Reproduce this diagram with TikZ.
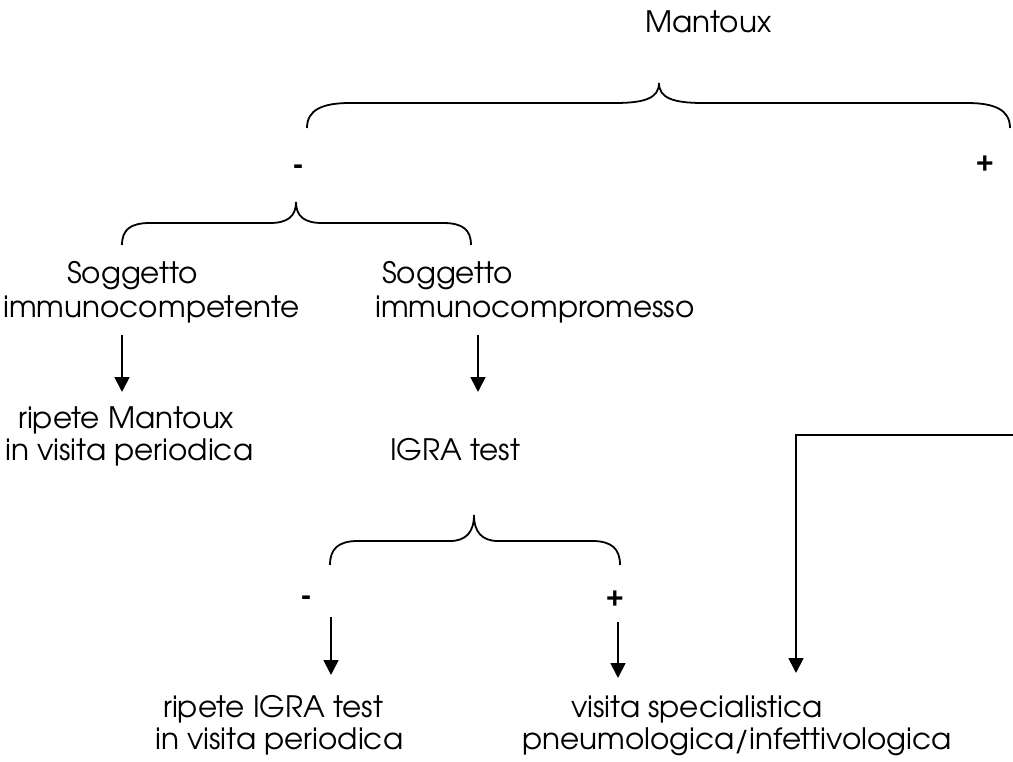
\documentclass[tikz,border=0pt]{standalone}
\usepackage{fontspec}
\setmainfont{texgyreadventor-regular.otf}
\newfontfamily\signfont{Liberation Sans}
\usetikzlibrary{arrows.meta}
\tikzset{
  txt/.style={inner sep=0pt, font=\fontsize{29.5}{34}\selectfont},
  sign/.style={inner sep=0pt, font=\signfont\bfseries\fontsize{30}{34}\selectfont},
  arr/.style={line width=1.8pt, -{Triangle[width=15pt,length=15pt]}},
  brace/.style={line width=1.8pt},
}
\begin{document}
\begin{tikzpicture}[x=1pt,y=-1pt]
\useasboundingbox (0,0) rectangle (1013,762);
% texts
\node[txt,anchor=base west] (mantoux) at (645,33) {Mantoux};
\node[txt,anchor=base west] (sogL) at (67,284) {Soggetto};
\node[txt,anchor=base west] (immL) at (3,318) {immunocompetente};
\node[txt,anchor=base west] (sogR) at (382,284) {Soggetto};
\node[txt,anchor=base west] (immR) at (375,318) {immunocompromesso};
\node[txt,anchor=base west] (ripM) at (18,428) {ripete Mantoux};
\node[txt,anchor=base west] (visM) at (5,460) {in visita periodica};
\node[txt,anchor=base west] (igra) at (390,460) {IGRA test};
\node[txt,anchor=base west] (ripI) at (163,717) {ripete IGRA test};
\node[txt,anchor=base west] (visI) at (155,749) {in visita periodica};
\node[txt,anchor=base west] (visS) at (571,717) {visita specialistica};
\node[txt,anchor=base west] (pneu) at (522,749) {pneumologica/infettivologica};
% signs
\node[sign] (m1) at (298,169.5) {-};
\node[sign] (p1) at (985,165) {+};
\node[sign] (m2) at (306,600.5) {-};
\node[sign] (p2) at (615,600) {+};
% big brace
\coordinate (b1l) at (307,128);
\coordinate (b1t) at (659,83);
\coordinate (b1r) at (1010,128);
\draw[brace] (b1l) .. controls (307,110) and (322,103) .. (350,103) -- (615,103)
  .. controls (645,103) and (659,98) .. (b1t)
  .. controls (659,98) and (673,103) .. (703,103) -- (967,103)
  .. controls (995,103) and (1010,110) .. (b1r);
% small brace 1
\coordinate (b2l) at (122,245);
\coordinate (b2t) at (296,202);
\coordinate (b2r) at (471,245);
\draw[brace] (b2l) .. controls (122,230) and (130,223) .. (150,223) -- (270,223)
  .. controls (288,223) and (296,216) .. (b2t)
  .. controls (296,216) and (304,223) .. (322,223) -- (443,223)
  .. controls (463,223) and (471,230) .. (b2r);
% small brace 2
\coordinate (b3l) at (330,565);
\coordinate (b3t) at (474,515);
\coordinate (b3r) at (620,565);
\draw[brace] (b3l) .. controls (330,549) and (338,541) .. (358,541) -- (450,541)
  .. controls (466,541) and (474,532) .. (b3t)
  .. controls (474,532) and (482,541) .. (498,541) -- (592,541)
  .. controls (612,541) and (620,549) .. (b3r);
% arrows
\coordinate (a1s) at (122,335); \coordinate (a1e) at (122,392);
\coordinate (a2s) at (478,335); \coordinate (a2e) at (478,392);
\coordinate (a3s) at (331,617); \coordinate (a3e) at (331,675);
\coordinate (a4s) at (618,622); \coordinate (a4e) at (618,678);
\coordinate (a5s) at (1013,435); \coordinate (a5c) at (796,435); \coordinate (a5e) at (796,673);
\draw[arr] (a1s) -- (a1e);
\draw[arr] (a2s) -- (a2e);
\draw[arr] (a3s) -- (a3e);
\draw[arr] (a4s) -- (a4e);
\draw[arr] (a5s) -- (a5c) -- (a5e);
\end{tikzpicture}
\end{document}
